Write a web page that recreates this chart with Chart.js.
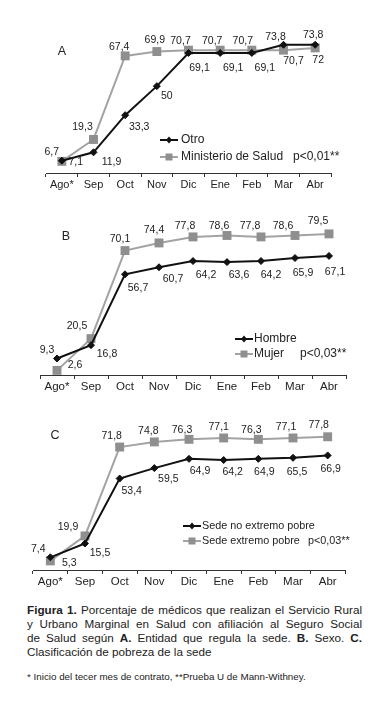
<!DOCTYPE html>
<html>
<head>
<meta charset="utf-8">
<script src="https://cdn.jsdelivr.net/npm/chart.js@4.4.1/dist/chart.umd.min.js"></script>
<style>
  body { margin: 0; background: #fff; width: 389px; height: 705px; position: relative; overflow: hidden;
         font-family: "Liberation Sans", Arial, sans-serif; color: #222; }
  .panel { position: absolute; left: 0; width: 389px; }
  .cap { position: absolute; left: 27px; top: 603px; width: 335px; font-size: 11.7px; line-height: 14px; }
  .cap div { text-align: justify; text-align-last: justify; }
  .cap div.last { text-align-last: left; }
  .note { position: absolute; left: 27px; top: 671px; font-size: 9.8px; }
</style>
</head>
<body>
<div class="panel" style="top:0;height:200px"><canvas id="chartA"></canvas></div>
<div class="panel" style="top:200px;height:200px"><canvas id="chartB"></canvas></div>
<div class="panel" style="top:400px;height:195px"><canvas id="chartC"></canvas></div>

<div class="cap">
  <div><b>Figura 1.</b> Porcentaje de médicos que realizan el Servicio Rural</div>
  <div>y Urbano Marginal en Salud con afiliación al Seguro Social</div>
  <div>de Salud según <b>A.</b> Entidad que regula la sede. <b>B.</b> Sexo. <b>C.</b></div>
  <div class="last">Clasificación de pobreza de la sede</div>
</div>
<div class="note">* Inicio del tecer mes de contrato, **Prueba U de Mann-Withney.</div>

<script>
const months = ['Ago*', 'Sep', 'Oct', 'Nov', 'Dic', 'Ene', 'Feb', 'Mar', 'Abr'];

// A. Entidad que regula la sede
const otro = [7.1, 11.9, 33.3, 50, 69.1, 69.1, 69.1, 73.8, 73.8];
const minsa = [6.7, 19.3, 67.4, 69.9, 70.7, 70.7, 70.7, 70.7, 72];

// B. Sexo
const hombre = [9.3, 16.8, 56.7, 60.7, 64.2, 63.6, 64.2, 65.9, 67.1];
const mujer = [2.6, 20.5, 70.1, 74.4, 77.8, 78.6, 77.8, 78.6, 79.5];

// C. Clasificacion de pobreza de la sede
const noPobre = [7.4, 15.5, 53.4, 59.5, 64.9, 64.2, 64.9, 65.5, 66.9];
const pobre = [5.3, 19.9, 71.8, 74.8, 76.3, 77.1, 76.3, 77.1, 77.8];

const FONT = '"Liberation Sans", Arial, sans-serif';
const fmt = v => String(v).replace('.', ',');

function blackSet(label, data) {
  return {
    label: label, data: data,
    borderColor: '#111', backgroundColor: '#111', borderWidth: 2,
    pointStyle: 'rectRot', pointRadius: 3.5, pointBorderWidth: 1,
    tension: 0, clip: false,
  };
}

function graySet(label, data) {
  return {
    label: label, data: data,
    borderColor: '#a3a3a3', backgroundColor: '#8f8f8f', pointBorderColor: '#8f8f8f', borderWidth: 2,
    pointStyle: 'rect', pointRadius: 6.3, pointBorderWidth: 0,
    tension: 0, clip: false,
  };
}

// point labels, panel letter and legend, drawn straight on the canvas
function decor(p) {
  return {
    id: 'decor',
    afterDatasetsDraw(chart) {
      const ctx = chart.ctx;
      ctx.save();
      ctx.fillStyle = '#222';
      ctx.textBaseline = 'middle';

      ctx.font = '10.5px ' + FONT;
      ctx.textAlign = 'center';
      chart.data.datasets.forEach((ds, i) => {
        const meta = chart.getDatasetMeta(i);
        meta.data.forEach((pt, j) => {
          const o = p.offsets[i][j];
          ctx.fillText(fmt(ds.data[j]), pt.x + o[0], pt.y + o[1]);
        });
      });

      ctx.font = '12.5px ' + FONT;
      ctx.fillText(p.letter, p.letterPos[0], p.letterPos[1]);

      const lg = p.legend;
      ctx.font = lg.size + 'px ' + FONT;
      ctx.textAlign = 'left';
      chart.data.datasets.forEach((ds, i) => {
        const y = lg.y + i * lg.gap;
        const mid = (lg.x0 + lg.x1) / 2;
        ctx.strokeStyle = ds.borderColor;
        ctx.lineWidth = 2;
        ctx.beginPath();
        ctx.moveTo(lg.x0, y);
        ctx.lineTo(lg.x1, y);
        ctx.stroke();
        ctx.fillStyle = ds.backgroundColor;
        ctx.beginPath();
        if (ds.pointStyle === 'rect') {
          ctx.rect(mid - 3.5, y - 3.5, 7, 7);
        } else {
          ctx.moveTo(mid, y - 3.5); ctx.lineTo(mid + 3, y); ctx.lineTo(mid, y + 3.5); ctx.lineTo(mid - 3, y);
          ctx.closePath();
        }
        ctx.fill();
        ctx.fillStyle = '#222';
        ctx.fillText(ds.label, lg.x1 + lg.textGap, y);
      });
      ctx.fillText(p.pText, p.pPos[0], p.pPos[1]);
      ctx.restore();
    }
  };
}

function makeChart(id, datasets, p) {
  return new Chart(document.getElementById(id), {
    type: 'line',
    data: { labels: months, datasets: datasets },
    options: {
      responsive: true,
      maintainAspectRatio: false,
      animation: false,
      layout: { padding: p.padding },
      plugins: { legend: { display: false }, tooltip: { enabled: false } },
      scales: {
        x: {
          offset: true,
          grid: { drawOnChartArea: false, drawTicks: true, tickLength: 4, color: '#333', offset: true },
          border: { display: true, color: '#333', width: 1 },
          ticks: { color: '#222', font: { family: FONT, size: p.tickSize }, padding: 1, maxRotation: 0 },
          afterFit: s => { s.height = 22; },
        },
        y: { display: false, min: 0, max: 80 },
      },
    },
    plugins: [decor(p)],
  });
}

makeChart('chartA', [blackSet('Otro', otro), graySet('Ministerio de Salud', minsa)], {
  padding: { left: 46, right: 58, top: 34, bottom: 5 },
  tickSize: 11,
  letter: 'A', letterPos: [62, 52],
  pText: 'p<0,01**', pPos: [293, 157],
  legend: { x0: 160, x1: 178, y: 140, gap: 17, size: 12, textGap: 3 },
  offsets: [
    [[14, 1], [18, 10], [14, 12], [10, 10], [11, 15], [13, 15], [13, 15], [-8, -8], [-2, -10]],
    [[-10, -9], [-11, -12], [-6, -9], [-2, -11], [-8, -9], [-8, -9], [-9, -9], [10, 11], [3, 12]],
  ],
});

makeChart('chartB', [blackSet('Hombre', hombre), graySet('Mujer', mujer)], {
  padding: { left: 40, right: 43, top: 33, bottom: 3 },
  tickSize: 11.5,
  letter: 'B', letterPos: [66, 37],
  pText: 'p<0,03**', pPos: [300, 154],
  legend: { x0: 235, x1: 253, y: 139, gap: 15, size: 12, textGap: 1 },
  offsets: [
    [[-10, -8], [16, 9], [13, 14], [14, 12], [13, 14], [12, 13], [10, 14], [8, 15], [6, 16]],
    [[18, -5], [-14, -13], [-5, -11], [-5, -13], [-8, -11], [-8, -9], [-11, -11], [-12, -9], [-11, -13]],
  ],
});

makeChart('chartC', [blackSet('Sede no extremo pobre', noPobre), graySet('Sede extremo pobre', pobre)], {
  padding: { left: 33, right: 44, top: 33, bottom: 3 },
  tickSize: 11.5,
  letter: 'C', letterPos: [55, 36],
  pText: 'p<0,03**', pPos: [308, 141],
  legend: { x0: 183, x1: 201, y: 126, gap: 15, size: 10.8, textGap: 1 },
  offsets: [
    [[-12, -8], [15, 10], [12, 13], [14, 11], [11, 12], [9, 12], [6, 13], [4, 14], [3, 14]],
    [[19, 2], [-17, -9], [-8, -11], [-6, -11], [-7, -9], [-5, -11], [-7, -9], [-7, -11], [-9, -12]],
  ],
});
</script>
</body>
</html>
